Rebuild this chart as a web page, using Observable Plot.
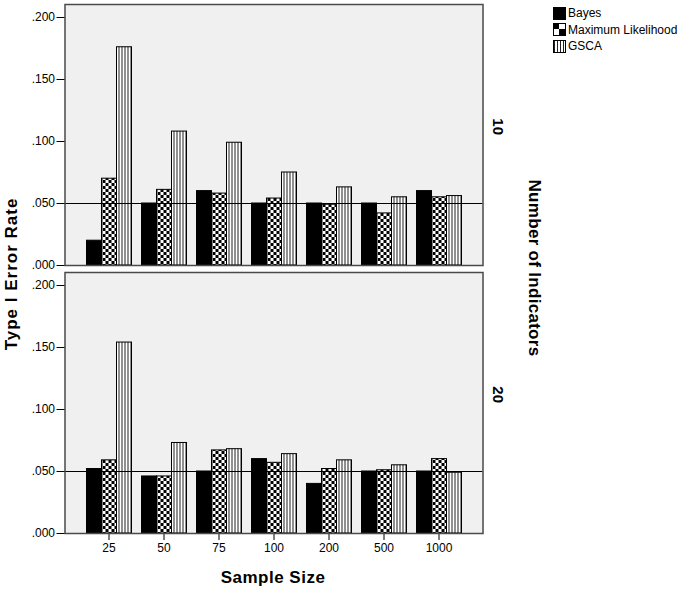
<!DOCTYPE html>
<html>
<head>
<meta charset="utf-8">
<script src="https://cdn.jsdelivr.net/npm/d3@7"></script>
<script src="https://cdn.jsdelivr.net/npm/@observablehq/plot@0.6"></script>
<style>
  html, body { margin: 0; padding: 0; background: white; }
  #root { position: relative; width: 686px; height: 591px; font-family: "Liberation Sans", Arial, sans-serif; color: black; overflow: hidden; }
  .abs { position: absolute; }
  .title { font-weight: bold; font-size: 17px; white-space: nowrap; }
  .legend-row { display: flex; align-items: center; height: 16.5px; font-size: 12px; white-space: nowrap; }
  .legend-row svg { margin-right: 2px; }
</style>
</head>
<body>
<div id="root">
  <svg width="0" height="0" style="position:absolute">
    <defs>
      <pattern id="checker" patternUnits="userSpaceOnUse" width="6" height="6">
        <rect width="6" height="6" fill="white"/>
        <rect width="3" height="3" fill="black"/>
        <rect x="3" y="3" width="3" height="3" fill="black"/>
      </pattern>
      <pattern id="stripes" patternUnits="userSpaceOnUse" width="3" height="3">
        <rect width="3" height="3" fill="white"/>
        <rect x="1" width="1" height="3" fill="#222"/>
      </pattern>
      <pattern id="checkerL" patternUnits="userSpaceOnUse" width="12" height="12">
        <rect width="12" height="12" fill="white"/>
        <rect width="6" height="6" fill="black"/>
        <rect x="6" y="6" width="6" height="6" fill="black"/>
      </pattern>
    </defs>
  </svg>
  <div id="top" class="abs" style="left:0;top:0"></div>
  <div id="bottom" class="abs" style="left:0;top:268px"></div>
  <div class="abs title" style="left:12px;top:274px;letter-spacing:1px;transform:translate(-50%,-50%) rotate(-90deg)">Type I Error Rate</div>
  <div class="abs title" style="left:534px;top:268px;letter-spacing:0.3px;transform:translate(-50%,-50%) rotate(90deg)">Number of Indicators</div>
  <div class="abs title" style="left:273px;top:578px;letter-spacing:0.5px;transform:translate(-50%,-50%)">Sample Size</div>
  <div id="legend" class="abs" style="left:553px;top:5px"></div>
</div>
<script>
// ---- data ----
const samples = ["25", "50", "75", "100", "200", "500", "1000"];
const methods = ["Bayes", "Maximum Likelihood", "GSCA"];
const indicators = ["10", "20"];
const bayes10 = [0.020, 0.050, 0.060, 0.050, 0.050, 0.050, 0.060];
const ml10    = [0.070, 0.061, 0.058, 0.054, 0.049, 0.042, 0.055];
const gsca10  = [0.176, 0.108, 0.099, 0.075, 0.063, 0.055, 0.056];
const bayes20 = [0.052, 0.046, 0.050, 0.060, 0.040, 0.050, 0.050];
const ml20    = [0.059, 0.046, 0.067, 0.057, 0.052, 0.051, 0.060];
const gsca20  = [0.154, 0.073, 0.068, 0.064, 0.059, 0.055, 0.049];
const yTicks = [0, 0.05, 0.10, 0.15, 0.20];
const referenceRate = [0.05];

const series = {
  "10": [bayes10, ml10, gsca10],
  "20": [bayes20, ml20, gsca20]
};
const rows = [];
for (const ind of indicators) {
  methods.forEach((m, mi) => {
    samples.forEach((s, si) => {
      rows.push({indicator: ind, sample: s, method: m, value: series[ind][mi][si]});
    });
  });
}

const fills = ["black", "url(#checker)", "url(#stripes)"];
const fmt = d => d3.format(".3f")(d).replace(/^0/, "");
const outer = 16.5; // panel space outside first/last sample group

function panel(ind, showX) {
  const h = showX ? 323 : 270;
  const fxBase = {domain: samples, padding: 0};
  return Plot.plot({
    width: 686,
    height: h,
    marginLeft: 64 + outer,
    marginRight: 204 + outer,
    marginTop: 4,
    marginBottom: showX ? 58 : 5,
    style: {fontFamily: "'Liberation Sans', Arial, sans-serif", fontSize: "12px", background: "transparent", color: "black", overflow: "visible"},
    fx: showX
      ? {...fxBase, axis: "bottom", tickSize: 7, tickPadding: 3, label: null}
      : {...fxBase, axis: null},
    x: {domain: methods, paddingInner: 0, paddingOuter: 0.286, axis: null},
    y: {domain: [0, 0.2 * 261 / 248], axis: null},
    color: {domain: methods, range: fills},
    marks: [
      Plot.frame({facet: "super", fill: "#f0f0f0", stroke: null, insetLeft: -outer, insetRight: -outer}),
      Plot.barY(rows.filter(d => d.indicator === ind), {
        fx: "sample", x: "method", y: "value", fill: "method",
        stroke: "black", strokeWidth: 1, inset: 0
      }),
      Plot.ruleY(referenceRate, {stroke: "black", strokeWidth: 1, insetLeft: -outer, insetRight: -outer}),
      Plot.frame({facet: "super", stroke: "#4a4a4a", strokeWidth: 1.5, insetLeft: -outer, insetRight: -outer}),
      Plot.axisY(yTicks, {tickFormat: fmt, tickSize: 8, tickPadding: 2, label: null, dx: -outer}),
      Plot.text([ind], {facet: "super", frameAnchor: "right", dx: 15 + outer, rotate: 90, text: d => d, fontSize: 15, fontWeight: "bold"})
    ]
  });
}

document.getElementById("top").appendChild(panel("10", false));
document.getElementById("bottom").appendChild(panel("20", true));

// legend
const legendFills = ["black", "url(#checkerL)", "url(#stripes)"];
const leg = document.getElementById("legend");
methods.forEach((m, i) => {
  const row = document.createElement("div");
  row.className = "legend-row";
  row.innerHTML = `<svg width="13" height="13"><rect x="0.5" y="0.5" width="12" height="12" fill="${legendFills[i]}" stroke="black" stroke-width="1"/></svg><span>${m}</span>`;
  leg.appendChild(row);
});
</script>
</body>
</html>
